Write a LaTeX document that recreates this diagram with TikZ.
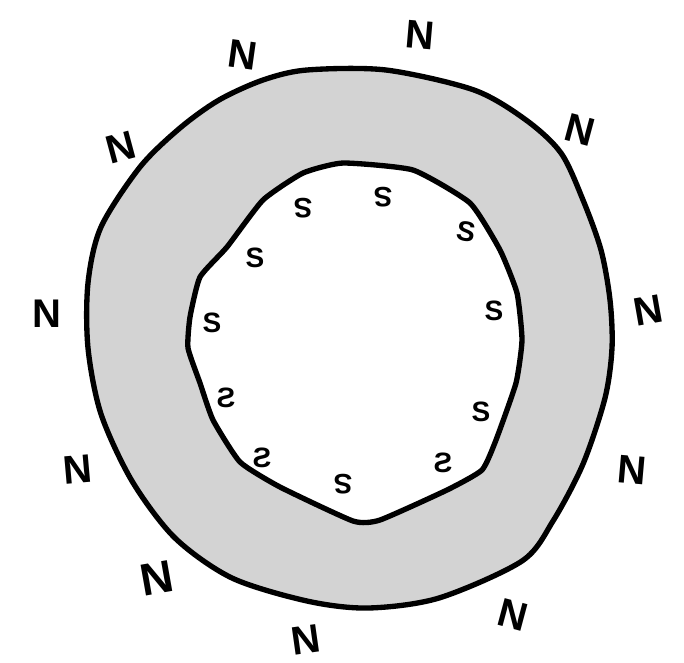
\documentclass[tikz,border=0pt]{standalone}
\usepackage{fontspec}
\setmainfont{Liberation Sans}
\definecolor{ringgray}{RGB}{211,211,211}
\begin{document}
\begin{tikzpicture}[x=0.75pt,y=-0.75pt,
  outline/.style={line width=4pt,line join=round},
  nlabel/.style={font=\bfseries\fontsize{30}{30}\selectfont,inner sep=0pt},
  slabel/.style={font=\bfseries\fontsize{21}{21}\selectfont,inner sep=0pt}]
\useasboundingbox (0,0) rectangle (684,662);
% outer ring
\draw[outline,fill=ringgray] plot[smooth cycle,tension=0.5] coordinates {
 (307,70) (386,70) (474,90) (526,120) (561,153) (583,200) (601,250) (610,300)
 (612,348) (605,398) (583,464) (553,521) (522,561) (439,598) (368,608)
 (307,601) (232,578) (175,538) (132,481) (101,414) (88,348) (88,283)
 (101,227) (140,167) (180,128) (219,100) (263,80)};
% inner hole
\draw[outline,fill=white] plot[smooth cycle,tension=0.3] coordinates {
 (343,163) (413,170) (470,203) (500,250) (517,293) (522,340) (516,383)
 (496,440) (482,470) (447,490) (380,520) (353,521) (280,487) (240,462)
 (213,420) (200,383) (188,348) (190,317) (200,277) (227,247) (263,200)
 (303,173)};
% N labels
\node[nlabel,rotate=-8] (n1) at (243,55) {N};
\node[nlabel,rotate=-5] (n2) at (420,35) {N};
\node[nlabel,rotate=-15] (n3) at (580,130) {N};
\node[nlabel,rotate=15] (n4) at (121,147) {N};
\node[nlabel] (n5) at (47,314) {N};
\node[nlabel,rotate=10] (n6) at (648,310) {N};
\node[nlabel,rotate=5] (n7) at (78,470) {N};
\node[nlabel,rotate=-5] (n8) at (632,470) {N};
\node[nlabel,font=\bfseries\fontsize{34}{34}\selectfont,rotate=10] (n9) at (157,578) {N};
\node[nlabel,rotate=-15] (n10) at (513,615) {N};
\node[nlabel,rotate=8] (n11) at (306,640) {N};
% S labels
\node[slabel,rotate=180] (s1) at (303,208) {S};
\node[slabel,rotate=180] (s2) at (383,197) {S};
\node[slabel,rotate=-10] (s3) at (466,232) {S};
\node[slabel] (s4) at (255,258) {S};
\node[slabel] (s5) at (494,311) {S};
\node[slabel] (s6) at (212,323) {S};
\node[slabel,xscale=-1] (s7) at (226,398) {S};
\node[slabel] (s8) at (481,412) {S};
\node[slabel,xscale=-1] (s9) at (262,458) {S};
\node[slabel,xscale=-1] (s10) at (443,463) {S};
\node[slabel,rotate=180] (s11) at (343,484) {S};
\end{tikzpicture}
\end{document}
